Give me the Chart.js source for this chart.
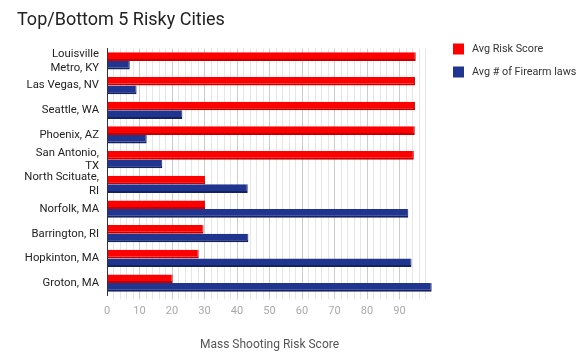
<!DOCTYPE html>
<html><head><meta charset="utf-8">
<script src="https://cdn.jsdelivr.net/npm/chart.js@4"></script>
<style>html,body{margin:0;padding:0;background:#fff}#wrap{width:583px;height:357px;position:relative}</style>
</head><body><div id="wrap"><canvas id="c" width="583" height="357"></canvas></div>
<script>
const categories = [["Louisville","Metro, KY"],"Las Vegas, NV","Seattle, WA","Phoenix, AZ",["San Antonio,","TX"],["North Scituate,","RI"],"Norfolk, MA","Barrington, RI","Hopkinton, MA","Groton, MA"];
const avgRiskScore = [95, 94.8, 94.8, 94.7, 94.4, 30.2, 30.2, 29.7, 28.2, 20.2];
const avgFirearmLaws = [7, 9.1, 23.2, 12.2, 17, 43.3, 92.7, 43.5, 93.7, 99.9];
const xTickLabels = [0,10,20,30,40,50,60,70,80,90];

const sideLegend = {
  id:'sideLegend',
  afterDraw(chart){
    const ctx = chart.ctx;
    ctx.save();
    ctx.font = '10.8px Roboto';
    ctx.textBaseline = 'middle';
    ctx.textAlign = 'left';
    chart.data.datasets.forEach((ds,i)=>{
      const y = 49 + i*23;
      ctx.fillStyle = ds.backgroundColor;
      ctx.fillRect(453, y-5.5, 11, 11);
      ctx.fillStyle = '#333';
      ctx.fillText(ds.label, 472, y);
    });
    ctx.restore();
  }
};

new Chart(document.getElementById('c'), {
  type: 'bar',
  data: {
    labels: categories,
    datasets: [
      {label:'Avg Risk Score', data: avgRiskScore, backgroundColor:'#ff0000', borderColor:'#c40000', borderWidth:{top:0,left:0,right:1,bottom:2}, borderSkipped:false},
      {label:'Avg # of Firearm laws', data: avgFirearmLaws, backgroundColor:'#1f3590', borderColor:'#142260', borderWidth:{top:0,left:0,right:1,bottom:2}, borderSkipped:false}
    ]
  },
  plugins:[sideLegend],
  options: {
    indexAxis:'y', responsive:false, animation:false,
    layout:{padding:{left:17,right:151,top:0,bottom:1}},
    datasets:{bar:{barPercentage:1, categoryPercentage:0.7}},
    plugins:{
      title:{display:true, text:'Top/Bottom 5 Risky Cities', align:'start', color:'#222', font:{family:'Roboto', size:18, weight:'normal'}, padding:{top:10,bottom:17}},
      legend:{display:false},
      tooltip:{enabled:false}
    },
    scales:{
      x:{min:0, max:100,
        ticks:{stepSize:2, autoSkip:false, maxRotation:0, color:'#aaa', font:{family:'Roboto', size:11}, padding:5,
          callback:(v)=> xTickLabels.includes(v) ? String(v) : ''},
        grid:{color:(ctx)=>{const v=ctx.tick&&ctx.tick.value; if(v===100||v===0) return 'rgba(0,0,0,0)'; return v%10===0?'#cccccc':'#e6e6e6';}, tickLength:4, drawTicks:true},
        border:{display:false},
        title:{display:true, text:'Mass Shooting Risk Score', color:'#555', font:{family:'Roboto', size:12}, padding:{top:15}}
      },
      y:{
        afterFit:(scale)=>{ scale.width = 90; },
        ticks:{color:'#222', font:{family:'Roboto', size:11.3}, padding:8, autoSkip:false},
        grid:{display:false, drawTicks:false},
        border:{display:true, color:'#333', width:1}
      }
    }
  }
});
</script></body></html>
